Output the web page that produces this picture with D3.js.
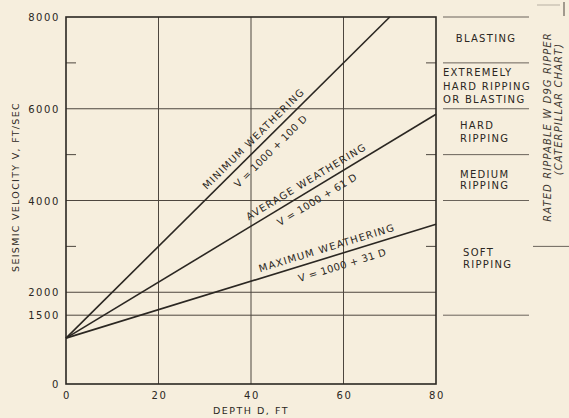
<!DOCTYPE html>
<html>
<head>
<meta charset="utf-8">
<script src="https://cdn.jsdelivr.net/npm/d3@7"></script>
<style>
  body { margin: 0; background: #f6eedd; }
  svg { display: block; font-family: "DejaVu Sans", sans-serif; }
</style>
</head>
<body>
<svg id="chart"></svg>
<script>
// depth (ft) / velocity (ft/sec)
const depthTicks = [0, 20, 40, 60, 80];
const velocityTicks = [0, 1500, 2000, 4000, 6000, 8000];
const minorVelocityTicks = [3000, 5000, 7000];

const lineNames = ["MINIMUM WEATHERING", "AVERAGE WEATHERING", "MAXIMUM WEATHERING"];
const equations = ["V = 1000 + 100 D", "V = 1000 + 61 D", "V = 1000 + 31 D"];
const minimumLine = [[0, 1000], [70, 8000]];
const averageLine = [[0, 1000], [80, 5880]];
const maximumLine = [[0, 1000], [80, 3480]];

const zoneLabels = [
  ["BLASTING"],
  ["EXTREMELY", "HARD RIPPING", "OR BLASTING"],
  ["HARD", "RIPPING"],
  ["MEDIUM", "RIPPING"],
  ["SOFT", "RIPPING"]
];
const zoneBounds = [8000, 7000, 6000, 5000, 4000, 1500];
const sideNote = ["RATED RIPPABLE W D9G RIPPER", "(CATERPILLAR CHART)"];

function init() {
  const width = 569,
    height = 418;
  const ink = "#2b2722";

  const svg = d3.select("#chart").attr("width", width).attr("height", height);

  const x = d3.scaleLinear().domain([0, 80]).range([66, 436]);
  const y = d3.scaleLinear().domain([0, 8000]).range([384, 17]);

  // grid
  const grid = svg.append("g").attr("stroke", "#4d463e").attr("stroke-width", 1);
  grid
    .selectAll("line.h")
    .data(velocityTicks.filter((v) => v > 0 && v < 8000))
    .join("line")
    .attr("class", "h")
    .attr("x1", x(0))
    .attr("x2", x(80))
    .attr("y1", (d) => y(d))
    .attr("y2", (d) => y(d));
  grid
    .selectAll("line.v")
    .data(depthTicks.filter((d) => d > 0 && d < 80))
    .join("line")
    .attr("class", "v")
    .attr("x1", (d) => x(d))
    .attr("x2", (d) => x(d))
    .attr("y1", y(0))
    .attr("y2", y(8000));

  // minor ticks on both sides
  grid
    .selectAll("line.tl")
    .data(minorVelocityTicks)
    .join("line")
    .attr("class", "tl")
    .attr("x1", x(0))
    .attr("x2", x(0) + 10)
    .attr("y1", (d) => y(d))
    .attr("y2", (d) => y(d));
  grid
    .selectAll("line.tr")
    .data(minorVelocityTicks)
    .join("line")
    .attr("class", "tr")
    .attr("x1", x(80) - 10)
    .attr("x2", x(80))
    .attr("y1", (d) => y(d))
    .attr("y2", (d) => y(d));

  // frame
  svg
    .append("rect")
    .attr("x", x(0))
    .attr("y", y(8000))
    .attr("width", x(80) - x(0))
    .attr("height", y(0) - y(8000))
    .attr("fill", "none")
    .attr("stroke", ink)
    .attr("stroke-width", 1.6);

  // tick labels
  svg
    .append("g")
    .selectAll("text")
    .data(velocityTicks)
    .join("text")
    .attr("x", x(0) - 6)
    .attr("y", (d) => y(d) + 4)
    .attr("text-anchor", "end")
    .attr("fill", ink)
    .style("font-size", "10px")
    .style("letter-spacing", "1.6px")
    .text((d) => d);

  svg
    .append("g")
    .selectAll("text")
    .data(depthTicks)
    .join("text")
    .attr("x", (d) => x(d) + 1)
    .attr("y", y(0) + 15)
    .attr("text-anchor", "middle")
    .attr("fill", ink)
    .style("font-size", "10px")
    .style("letter-spacing", "1.6px")
    .text((d) => d);

  // axis titles
  svg
    .append("text")
    .attr("transform", "translate(19, 187) rotate(-90)")
    .attr("text-anchor", "middle")
    .attr("fill", ink)
    .style("font-size", "9.5px")
    .style("letter-spacing", "1.3px")
    .text("SEISMIC VELOCITY V, FT/SEC");

  svg
    .append("text")
    .attr("x", x(40))
    .attr("y", 414)
    .attr("text-anchor", "middle")
    .attr("fill", ink)
    .style("font-size", "9.5px")
    .style("letter-spacing", "1.5px")
    .text("DEPTH D, FT");

  // weathering lines
  const lines = [minimumLine, averageLine, maximumLine];
  const lineGen = d3
    .line()
    .x((d) => x(d[0]))
    .y((d) => y(d[1]));

  svg
    .append("g")
    .selectAll("path")
    .data(lines)
    .join("path")
    .attr("d", lineGen)
    .attr("fill", "none")
    .attr("stroke", ink)
    .attr("stroke-width", 1.6);

  // labels along the lines: [name depth, equation depth]
  const labelAt = [
    [42, 42.5],
    [53, 53],
    [57, 59]
  ];

  lines.forEach((pts, i) => {
    const [p0, p1] = pts;
    const angle =
      (Math.atan2(y(p0[1]) - y(p1[1]), x(p1[0]) - x(p0[0])) * 180) / Math.PI;
    const onLine = (d) => {
      const v = p0[1] + ((p1[1] - p0[1]) * (d - p0[0])) / (p1[0] - p0[0]);
      return [x(d), y(v)];
    };

    const [nx, ny] = onLine(labelAt[i][0]);
    svg
      .append("text")
      .attr("transform", `translate(${nx}, ${ny}) rotate(${-angle})`)
      .attr("y", -6)
      .attr("text-anchor", "middle")
      .attr("fill", ink)
      .style("font-size", "10px")
      .style("letter-spacing", "1.2px")
      .text(lineNames[i]);

    const [ex, ey] = onLine(labelAt[i][1]);
    svg
      .append("text")
      .attr("transform", `translate(${ex}, ${ey}) rotate(${-angle})`)
      .attr("y", 15)
      .attr("text-anchor", "middle")
      .attr("fill", ink)
      .style("font-size", "10px")
      .style("letter-spacing", "0.4px")
      .text(equations[i]);
  });

  // rippability zones on the right
  svg
    .append("g")
    .selectAll("line")
    .data(zoneBounds)
    .join("line")
    .attr("x1", 443)
    .attr("x2", 529)
    .attr("y1", (d) => y(d))
    .attr("y2", (d) => y(d))
    .attr("stroke", "#6a635a")
    .attr("stroke-width", 1);

  const zoneX = [486, 443, 460, 460, 463];
  const zoneAnchor = ["middle", "start", "start", "start", "start"];
  const zoneBaseline = [42, 76, 129, 177.5, 255.5];
  const zoneLineGap = [0, 13.5, 12.5, 11.5, 12];

  zoneLabels.forEach((rows, i) => {
    svg
      .append("text")
      .attr("text-anchor", zoneAnchor[i])
      .attr("fill", ink)
      .style("font-size", "10px")
      .style("letter-spacing", "1.3px")
      .selectAll("tspan")
      .data(rows)
      .join("tspan")
      .attr("x", zoneX[i])
      .attr("y", (d, j) => zoneBaseline[i] + j * zoneLineGap[i])
      .text((d) => d);
  });

  // rotated note
  const noteX = [551, 562];
  const noteY = [127, 109];
  sideNote.forEach((t, i) => {
    svg
      .append("text")
      .attr("transform", `translate(${noteX[i]}, ${noteY[i]}) rotate(-90)`)
      .attr("text-anchor", "middle")
      .attr("fill", "#3e3831")
      .style("font-size", "10px")
      .style("font-style", "italic")
      .style("letter-spacing", "1.1px")
      .text(t);
  });

  svg
    .append("line")
    .attr("x1", 533)
    .attr("x2", 569)
    .attr("y1", y(3000))
    .attr("y2", y(3000))
    .attr("stroke", "#6a635a");
  svg
    .append("line")
    .attr("x1", 537)
    .attr("x2", 560)
    .attr("y1", 5)
    .attr("y2", 5)
    .attr("stroke", "#b8b0a3");
  svg
    .append("line")
    .attr("x1", 564)
    .attr("x2", 564)
    .attr("y1", 2)
    .attr("y2", 16)
    .attr("stroke", "#4d463e");
}

init();
</script>
</body>
</html>
